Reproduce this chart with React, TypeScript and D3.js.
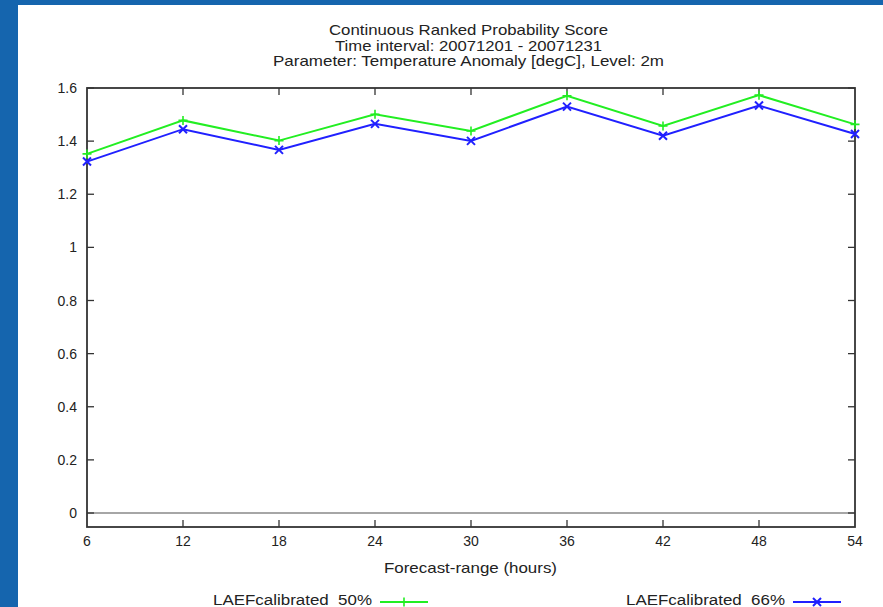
import React from "react";
import * as d3 from "d3";

// Forecast ranges (hours)
const hours = [6, 12, 18, 24, 30, 36, 42, 48, 54];
// CRPS per forecast range
const crps50 = [1.352, 1.478, 1.402, 1.501, 1.438, 1.571, 1.457, 1.573, 1.463];
const crps66 = [1.323, 1.445, 1.367, 1.465, 1.401, 1.53, 1.42, 1.534, 1.427];
const yTicks = [0, 0.2, 0.4, 0.6, 0.8, 1, 1.2, 1.4, 1.6];
const titleLines = [
  "Continuous Ranked Probability Score",
  "Time interval: 20071201 - 20071231",
  "Parameter: Temperature Anomaly [degC], Level: 2m",
];
const xTitle = "Forecast-range (hours)";
const seriesNames = ["LAEFcalibrated  50%", "LAEFcalibrated  66%"];

const W = 883;
const H = 607;
const M = { left: 87, right: 855, top: 88, bottom: 527 };
const FONT = "'Liberation Sans', Arial, sans-serif";
const GREEN = "#22ee22";
const BLUE = "#2020ff";
const FRAME = "#333";
const TEXT = "#222";

// widths of the title lines, axis title and legend entries
const titleWidths = [279, 267, 391];
const xTitleWidth = 173;
const legendWidth = 159;

export default function App() {
  const x = d3.scaleLinear().domain([6, 54]).range([M.left, M.right]);
  const y = d3.scaleLinear().domain([-0.0527, 1.6]).range([M.bottom, M.top]);
  const line = d3
    .line<number>()
    .x((_, i) => x(hours[i]))
    .y((d) => y(d));

  const plus = (cx: number, cy: number, r: number, color: string, key: string) => (
    <path
      key={key}
      d={`M${cx - r},${cy}H${cx + r}M${cx},${cy - r}V${cy + r}`}
      stroke={color}
      strokeWidth={1.6}
      fill="none"
    />
  );
  const cross = (cx: number, cy: number, r: number, color: string, key: string) => (
    <path
      key={key}
      d={`M${cx - r},${cy - r}L${cx + r},${cy + r}M${cx - r},${cy + r}L${cx + r},${cy - r}`}
      stroke={color}
      strokeWidth={2}
      fill="none"
    />
  );

  const tickLen = 7;
  const innerX = hours.slice(1, -1);

  return (
    <svg
      width={W}
      height={H}
      style={{ position: "absolute", left: 0, top: 0 }}
      fontFamily={FONT}
    >
      <rect x={0} y={0} width={W} height={H} fill="#1565ae" />
      <rect x={18} y={5} width={W - 18} height={H - 5} fill="#fff" />

      {/* titles */}
      {titleLines.map((t, i) => (
        <text
          key={t}
          x={468.5}
          y={35 + i * 15.5}
          textAnchor="middle"
          fontSize={15}
          fill={TEXT}
          textLength={titleWidths[i]}
          lengthAdjust="spacingAndGlyphs"
        >
          {t}
        </text>
      ))}

      {/* zero line */}
      <line x1={M.left} x2={M.right} y1={y(0)} y2={y(0)} stroke="#888" strokeWidth={1.5} />

      {/* y ticks and labels */}
      {yTicks.map((t) => (
        <g key={t}>
          <line x1={M.left} x2={M.left + tickLen} y1={y(t)} y2={y(t)} stroke={FRAME} strokeWidth={1.3} />
          <line x1={M.right} x2={M.right - tickLen} y1={y(t)} y2={y(t)} stroke={FRAME} strokeWidth={1.3} />
          <text x={77} y={y(t) + 5} textAnchor="end" fontSize={14} fill={TEXT}>
            {d3.format("~g")(t)}
          </text>
        </g>
      ))}

      {/* x ticks and labels */}
      {innerX.map((h) => (
        <g key={h}>
          <line x1={x(h)} x2={x(h)} y1={M.top} y2={M.top + tickLen} stroke={FRAME} strokeWidth={1.3} />
          <line x1={x(h)} x2={x(h)} y1={M.bottom} y2={M.bottom - tickLen} stroke={FRAME} strokeWidth={1.3} />
        </g>
      ))}
      {hours.map((h) => (
        <text key={h} x={x(h)} y={546} textAnchor="middle" fontSize={14} fill={TEXT}>
          {h}
        </text>
      ))}
      <text
        x={470.5}
        y={573}
        textAnchor="middle"
        fontSize={15}
        fill={TEXT}
        textLength={xTitleWidth}
        lengthAdjust="spacingAndGlyphs"
      >
        {xTitle}
      </text>

      {/* frame */}
      <rect
        x={M.left}
        y={M.top}
        width={M.right - M.left}
        height={M.bottom - M.top}
        fill="none"
        stroke={FRAME}
        strokeWidth={1.8}
      />

      {/* series */}
      <path d={line(crps50) ?? ""} fill="none" stroke={GREEN} strokeWidth={2} />
      {crps50.map((v, i) => plus(x(hours[i]), y(v), 4.5, GREEN, `g${i}`))}
      <path d={line(crps66) ?? ""} fill="none" stroke={BLUE} strokeWidth={2} />
      {crps66.map((v, i) => cross(x(hours[i]), y(v), 4, BLUE, `b${i}`))}

      {/* legend */}
      <text
        x={372}
        y={605}
        textAnchor="end"
        fontSize={14}
        fill={TEXT}
        style={{ whiteSpace: "pre" }}
        textLength={legendWidth}
        lengthAdjust="spacingAndGlyphs"
      >
        {seriesNames[0]}
      </text>
      <line x1={380} x2={428} y1={602} y2={602} stroke={GREEN} strokeWidth={2} />
      {plus(404, 602, 4.5, GREEN, "lg")}
      <text
        x={785}
        y={605}
        textAnchor="end"
        fontSize={14}
        fill={TEXT}
        style={{ whiteSpace: "pre" }}
        textLength={legendWidth}
        lengthAdjust="spacingAndGlyphs"
      >
        {seriesNames[1]}
      </text>
      <line x1={793} x2={841} y1={602} y2={602} stroke={BLUE} strokeWidth={2} />
      {cross(817, 602, 4, BLUE, "lb")}
    </svg>
  );
}
